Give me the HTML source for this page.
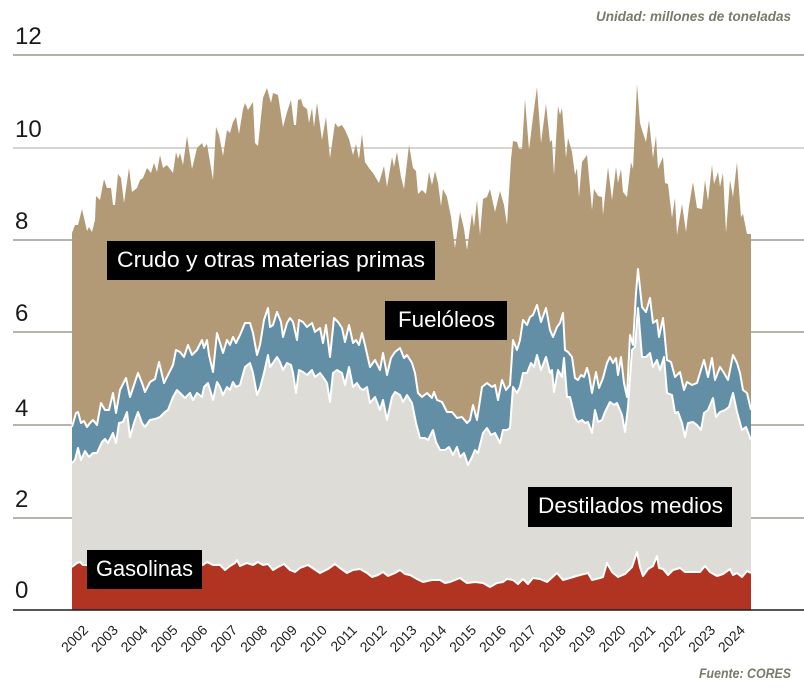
<!DOCTYPE html>
<html><head><meta charset="utf-8"><style>
html,body{margin:0;padding:0;background:#fff;}
svg{display:block;}
text{font-family:"Liberation Sans","DejaVu Sans",sans-serif;}
</style></head><body>
<svg width="804" height="688" viewBox="0 0 804 688" xmlns="http://www.w3.org/2000/svg">
<rect width="804" height="688" fill="#fff"/>
<!-- gridlines -->
<g stroke-width="1.3">
<line x1="13" y1="55" x2="804" y2="55" stroke="#838075"/>
<line x1="13" y1="148" x2="804" y2="148" stroke="#bdbcb8"/>
<line x1="13" y1="240" x2="804" y2="240" stroke="#8a877c"/>
<line x1="13" y1="332" x2="804" y2="332" stroke="#8a877c"/>
<line x1="13" y1="425" x2="804" y2="425" stroke="#8a877c"/>
<line x1="13" y1="518" x2="804" y2="518" stroke="#8a877c"/>
</g>
<!-- brown -->
<polygon fill="#b39a76" points="72,233 75,225 78,225 82,209 87,231 89,227 92,232 95,220 96,196 100,200 104,179 107,188 111,188 113,205 115,205 118,174 121,178 124,203 129,168 132,192 137,188 140,180 143,178 147,168 151,173 154,163 157,172 160,155 163,168 167,165 170,169 173,173 176,152 178,159 180,153 183,165 187,136 192,169 197,148 202,143 204,148 207,144 213,180 216,127 219,135 223,156 227,130 230,133 233,122 236,117 239,134 243,109 245,103 248,110 253,102 255,143 258,146 263,98 267,88 271,103 273,93 278,95 283,127 287,112 291,100 294,125 296,125 298,100 301,99 303,106 307,109 309,123 312,108 314,127 317,103 322,140 326,117 330,158 335,123 338,127 342,125 345,130 349,139 353,155 356,144 359,159 362,134 365,162 369,168 373,173 379,183 384,166 387,187 392,157 394,167 397,152 401,177 404,189 409,145 413,168 416,171 418,194 422,190 426,194 429,172 432,185 435,171 438,183 441,206 443,189 447,197 451,217 455,248 460,212 464,229 467,250 472,213 474,227 477,200 480,235 483,199 487,197 490,189 495,212 500,191 504,205 507,225 511,159 513,141 517,142 519,149 522,149 525,99 529,150 533,117 537,87 541,143 546,104 550,142 552,140 554,175 558,106 560,115 562,108 566,158 568,138 572,152 575,175 577,168 579,197 582,162 587,155 592,210 594,189 598,196 602,197 603,215 608,167 612,200 616,167 618,183 621,169 623,192 627,197 631,162 633,169 637,84 640,123 643,133 646,142 649,120 653,158 656,136 658,169 663,157 665,183 668,184 672,218 675,198 677,235 682,204 686,232 689,206 693,182 697,208 702,209 705,180 708,201 712,165 714,184 718,172 720,187 723,173 726,233 730,180 733,197 737,162 741,217 743,214 747,234 751,234 751,610 72,610"/>
<!-- blue -->
<polygon id="blue" fill="#628fa6" points="72,427 76,413 78,412 81,423 84,421 87,427 90,423 93,420 97,425 101,403 105,410 109,410 113,393 116,413 120,390 126,378 130,397 134,385 138,373 142,383 145,392 150,382 155,379 159,362 164,383 168,375 173,365 176,350 180,352 184,357 188,345 192,355 197,350 202,340 204,348 207,340 209,355 213,372 217,333 220,343 223,353 227,340 230,345 233,337 236,343 240,335 245,323 250,323 253,333 257,355 260,345 264,320 268,308 270,327 273,325 277,312 281,322 283,337 287,323 290,318 293,322 297,340 299,320 303,322 307,327 312,323 315,332 320,328 323,343 326,325 330,357 334,318 338,322 342,328 345,342 349,325 353,343 356,340 359,345 362,333 365,345 370,367 375,360 380,370 383,353 387,375 391,358 395,352 400,348 404,358 407,355 412,363 415,373 418,393 422,397 427,393 432,398 434,392 437,400 442,402 447,412 452,412 457,418 462,417 467,423 470,420 473,405 477,420 482,387 487,383 492,387 495,385 498,400 502,380 506,390 510,385 513,340 517,350 520,340 523,320 527,325 530,317 533,315 537,305 541,322 546,308 550,330 553,337 557,327 560,323 563,313 565,350 568,352 572,357 575,378 578,380 581,375 584,377 587,368 589,375 592,393 596,372 599,388 603,378 607,363 610,357 613,363 616,358 618,375 621,357 624,383 627,397 630,335 633,345 636,293 638,269 642,307 646,312 650,298 653,323 657,320 659,337 663,318 667,360 671,362 675,377 680,372 684,390 687,382 692,385 697,383 700,373 704,360 708,377 712,358 715,380 720,367 724,373 728,380 733,355 737,363 740,373 743,390 747,393 751,410 751,610 72,610"/>
<!-- gray -->
<polygon fill="#dedcd7" points="72,463 75,460 78,448 81,460 85,451 89,457 93,453 97,453 102,442 105,439 108,443 113,433 116,443 119,423 123,422 127,412 130,437 134,423 138,412 142,423 145,427 150,420 155,419 160,417 165,412 168,410 173,397 177,390 180,393 185,398 190,393 193,400 197,393 202,397 204,387 208,383 213,400 217,382 220,387 223,395 227,387 230,390 233,382 236,387 240,385 245,367 250,363 253,373 257,395 260,388 264,373 268,355 270,367 273,363 277,357 280,362 283,370 287,363 291,365 293,373 296,393 299,370 303,372 307,375 312,370 315,377 320,373 323,377 327,383 330,402 333,373 337,370 342,373 345,385 349,367 353,387 357,383 360,388 363,390 367,387 370,403 375,397 380,410 383,400 387,420 392,397 395,392 400,395 403,402 407,395 412,403 416,423 420,438 425,438 428,440 433,430 436,442 440,450 445,450 449,447 453,455 457,447 460,457 464,453 468,465 472,457 475,450 478,453 483,433 487,428 491,435 495,433 500,443 503,430 507,430 510,428 513,387 517,393 520,387 523,373 527,373 531,363 534,367 537,355 541,370 546,357 550,373 552,370 554,392 558,370 562,377 564,358 567,397 570,397 575,418 578,422 582,420 585,423 588,422 592,433 595,410 598,422 602,420 605,412 610,402 614,405 617,403 622,415 625,432 628,407 632,350 635,347 638,308 642,357 646,357 650,353 653,367 657,360 660,370 664,357 667,393 672,395 675,413 678,412 682,423 685,437 688,423 693,422 697,425 701,430 704,413 708,410 713,398 716,417 720,412 725,410 729,407 733,393 737,412 742,430 746,427 751,440 751,610 72,610"/>
<!-- red -->
<polygon fill="#b13422" points="72,567 77,563 80,562 83,565 90,565 100,563 110,566 120,564 130,566 140,563 150,565 160,566 170,563 180,565 190,566 200,564 203,565 207,562 213,565 220,565 225,570 230,566 235,563 237,560 240,566 247,563 253,565 258,562 263,565 268,564 273,570 278,567 284,564 290,570 295,572 300,568 308,565 320,573 328,569 335,564 340,568 347,573 353,570 360,569 367,573 372,577 378,575 383,572 388,576 395,573 400,570 405,574 410,575 417,579 423,582 432,580 440,580 445,583 450,582 460,578 467,583 475,582 483,583 490,587 497,583 503,582 507,579 513,580 518,584 523,579 528,584 533,578 540,579 547,582 557,573 563,580 570,578 580,575 588,573 592,580 600,578 603,577 607,563 612,572 618,577 625,574 632,567 637,552 640,567 643,576 648,569 653,566 657,556 659,568 663,569 668,575 673,570 680,568 685,572 692,572 700,572 705,566 710,572 717,576 723,574 730,569 733,575 737,573 742,577 747,571 751,573 751,610 72,610"/>
<!-- white separator lines -->
<g fill="none" stroke="#fff" stroke-width="2" stroke-linejoin="round">
<polyline points="72,427 76,413 78,412 81,423 84,421 87,427 90,423 93,420 97,425 101,403 105,410 109,410 113,393 116,413 120,390 126,378 130,397 134,385 138,373 142,383 145,392 150,382 155,379 159,362 164,383 168,375 173,365 176,350 180,352 184,357 188,345 192,355 197,350 202,340 204,348 207,340 209,355 213,372 217,333 220,343 223,353 227,340 230,345 233,337 236,343 240,335 245,323 250,323 253,333 257,355 260,345 264,320 268,308 270,327 273,325 277,312 281,322 283,337 287,323 290,318 293,322 297,340 299,320 303,322 307,327 312,323 315,332 320,328 323,343 326,325 330,357 334,318 338,322 342,328 345,342 349,325 353,343 356,340 359,345 362,333 365,345 370,367 375,360 380,370 383,353 387,375 391,358 395,352 400,348 404,358 407,355 412,363 415,373 418,393 422,397 427,393 432,398 434,392 437,400 442,402 447,412 452,412 457,418 462,417 467,423 470,420 473,405 477,420 482,387 487,383 492,387 495,385 498,400 502,380 506,390 510,385 513,340 517,350 520,340 523,320 527,325 530,317 533,315 537,305 541,322 546,308 550,330 553,337 557,327 560,323 563,313 565,350 568,352 572,357 575,378 578,380 581,375 584,377 587,368 589,375 592,393 596,372 599,388 603,378 607,363 610,357 613,363 616,358 618,375 621,357 624,383 627,397 630,335 633,345 636,293 638,269 642,307 646,312 650,298 653,323 657,320 659,337 663,318 667,360 671,362 675,377 680,372 684,390 687,382 692,385 697,383 700,373 704,360 708,377 712,358 715,380 720,367 724,373 728,380 733,355 737,363 740,373 743,390 747,393 751,410"/>
<polyline points="72,463 75,460 78,448 81,460 85,451 89,457 93,453 97,453 102,442 105,439 108,443 113,433 116,443 119,423 123,422 127,412 130,437 134,423 138,412 142,423 145,427 150,420 155,419 160,417 165,412 168,410 173,397 177,390 180,393 185,398 190,393 193,400 197,393 202,397 204,387 208,383 213,400 217,382 220,387 223,395 227,387 230,390 233,382 236,387 240,385 245,367 250,363 253,373 257,395 260,388 264,373 268,355 270,367 273,363 277,357 280,362 283,370 287,363 291,365 293,373 296,393 299,370 303,372 307,375 312,370 315,377 320,373 323,377 327,383 330,402 333,373 337,370 342,373 345,385 349,367 353,387 357,383 360,388 363,390 367,387 370,403 375,397 380,410 383,400 387,420 392,397 395,392 400,395 403,402 407,395 412,403 416,423 420,438 425,438 428,440 433,430 436,442 440,450 445,450 449,447 453,455 457,447 460,457 464,453 468,465 472,457 475,450 478,453 483,433 487,428 491,435 495,433 500,443 503,430 507,430 510,428 513,387 517,393 520,387 523,373 527,373 531,363 534,367 537,355 541,370 546,357 550,373 552,370 554,392 558,370 562,377 564,358 567,397 570,397 575,418 578,422 582,420 585,423 588,422 592,433 595,410 598,422 602,420 605,412 610,402 614,405 617,403 622,415 625,432 628,407 632,350 635,347 638,308 642,357 646,357 650,353 653,367 657,360 660,370 664,357 667,393 672,395 675,413 678,412 682,423 685,437 688,423 693,422 697,425 701,430 704,413 708,410 713,398 716,417 720,412 725,410 729,407 733,393 737,412 742,430 746,427 751,440"/>
<polyline points="72,567 77,563 80,562 83,565 90,565 100,563 110,566 120,564 130,566 140,563 150,565 160,566 170,563 180,565 190,566 200,564 203,565 207,562 213,565 220,565 225,570 230,566 235,563 237,560 240,566 247,563 253,565 258,562 263,565 268,564 273,570 278,567 284,564 290,570 295,572 300,568 308,565 320,573 328,569 335,564 340,568 347,573 353,570 360,569 367,573 372,577 378,575 383,572 388,576 395,573 400,570 405,574 410,575 417,579 423,582 432,580 440,580 445,583 450,582 460,578 467,583 475,582 483,583 490,587 497,583 503,582 507,579 513,580 518,584 523,579 528,584 533,578 540,579 547,582 557,573 563,580 570,578 580,575 588,573 592,580 600,578 603,577 607,563 612,572 618,577 625,574 632,567 637,552 640,567 643,576 648,569 653,566 657,556 659,568 663,569 668,575 673,570 680,568 685,572 692,572 700,572 705,566 710,572 717,576 723,574 730,569 733,575 737,573 742,577 747,571 751,573"/>
</g>
<!-- zero line -->
<line x1="13" y1="610" x2="804" y2="610" stroke="#1e1e1e" stroke-width="1.6"/>
<!-- y labels -->
<g font-size="24" fill="#1a1a1a">
<text x="15" y="44">12</text>
<text x="15" y="137">10</text>
<text x="15" y="229">8</text>
<text x="15" y="321">6</text>
<text x="15" y="416">4</text>
<text x="15" y="507">2</text>
<text x="15" y="598">0</text>
</g>
<!-- series labels -->
<rect x="107" y="241" width="328" height="39" fill="#000"/>
<text x="117" y="267" font-size="22" fill="#fff" textLength="308" lengthAdjust="spacingAndGlyphs">Crudo y otras materias primas</text>
<rect x="385" y="301" width="122" height="39" fill="#000"/>
<text x="398" y="327" font-size="22" fill="#fff" textLength="97" lengthAdjust="spacingAndGlyphs">Fuelóleos</text>
<rect x="528" y="487" width="204" height="40" fill="#000"/>
<text x="538" y="513" font-size="22" fill="#fff" textLength="185" lengthAdjust="spacingAndGlyphs">Destilados medios</text>
<rect x="87" y="550" width="115" height="39" fill="#000"/>
<text x="96" y="576" font-size="22" fill="#fff" textLength="97" lengthAdjust="spacingAndGlyphs">Gasolinas</text>
<!-- x labels -->
<g font-size="14" fill="#222" text-anchor="end">
<text transform="translate(89,631) rotate(-45)">2002</text>
<text transform="translate(118.9,631) rotate(-45)">2003</text>
<text transform="translate(148.7,631) rotate(-45)">2004</text>
<text transform="translate(178.6,631) rotate(-45)">2005</text>
<text transform="translate(208.4,631) rotate(-45)">2006</text>
<text transform="translate(238.3,631) rotate(-45)">2007</text>
<text transform="translate(268.2,631) rotate(-45)">2008</text>
<text transform="translate(298,631) rotate(-45)">2009</text>
<text transform="translate(327.9,631) rotate(-45)">2010</text>
<text transform="translate(357.7,631) rotate(-45)">2011</text>
<text transform="translate(387.6,631) rotate(-45)">2012</text>
<text transform="translate(417.5,631) rotate(-45)">2013</text>
<text transform="translate(447.3,631) rotate(-45)">2014</text>
<text transform="translate(477.2,631) rotate(-45)">2015</text>
<text transform="translate(507,631) rotate(-45)">2016</text>
<text transform="translate(536.9,631) rotate(-45)">2017</text>
<text transform="translate(566.8,631) rotate(-45)">2018</text>
<text transform="translate(596.6,631) rotate(-45)">2019</text>
<text transform="translate(626.5,631) rotate(-45)">2020</text>
<text transform="translate(656.3,631) rotate(-45)">2021</text>
<text transform="translate(686.2,631) rotate(-45)">2022</text>
<text transform="translate(716.1,631) rotate(-45)">2023</text>
<text transform="translate(745.9,631) rotate(-45)">2024</text>
</g>
<!-- notes -->
<text x="596" y="21" font-size="13.5" font-style="italic" font-weight="bold" fill="#7a7a6c" textLength="195" lengthAdjust="spacingAndGlyphs">Unidad: millones de toneladas</text>
<text x="699" y="678" font-size="13.5" font-style="italic" font-weight="bold" fill="#7a7a6c" textLength="92" lengthAdjust="spacingAndGlyphs">Fuente: CORES</text>
</svg>
</body></html>
